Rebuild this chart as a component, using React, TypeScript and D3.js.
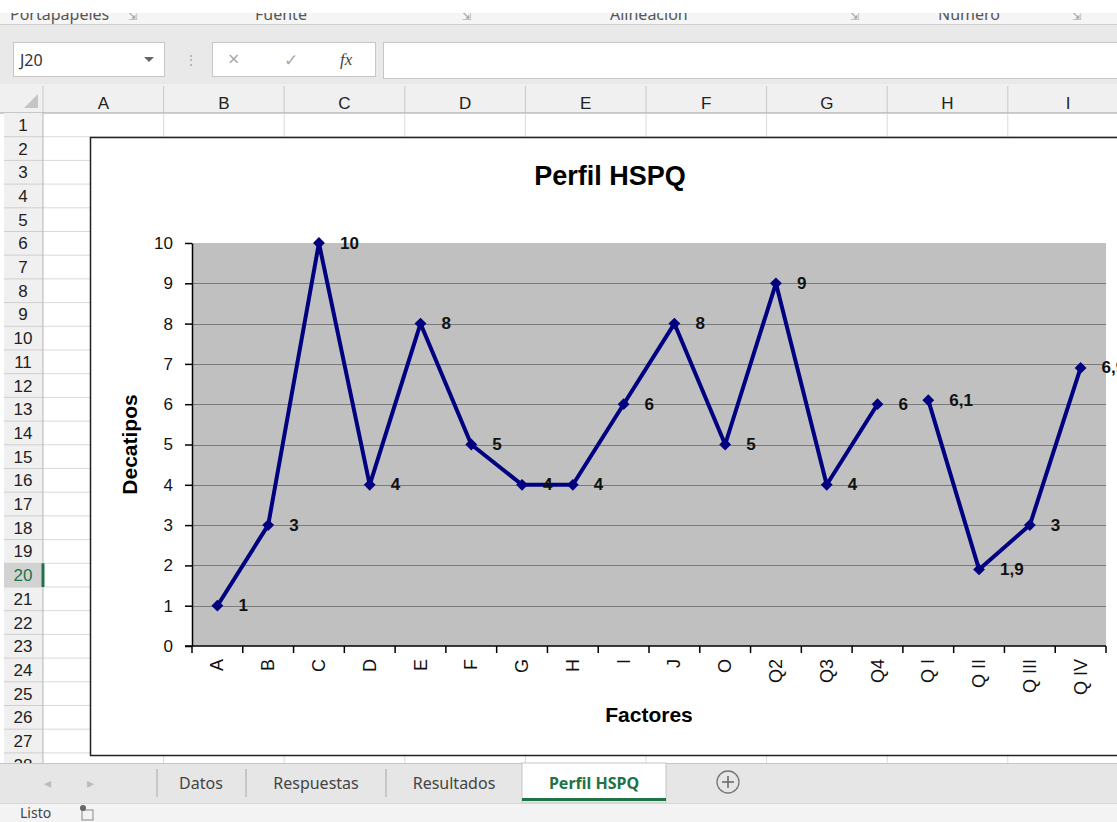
import { useRef, useEffect } from "react";
import * as d3 from "d3";

// ---- data ----
const factores = ["A", "B", "C", "D", "E", "F", "G", "H", "I", "J", "O", "Q2", "Q3", "Q4", "Q I", "Q II", "Q III", "Q IV"];
const primarios = [1, 3, 10, 4, 8, 5, 4, 4, 6, 8, 5, 9, 4, 6]; // A .. Q4
const secundarios = [6.1, 1.9, 3, 6.9]; // Q I .. Q IV
const yTicks = [0, 1, 2, 3, 4, 5, 6, 7, 8, 9, 10];

const columnas = ["A", "B", "C", "D", "E", "F", "G", "H", "I"];
const filas = d3.range(1, 29);
const hojas = ["Datos", "Respuestas", "Resultados", "Perfil HSPQ"];
const grupos = [
	{ name: "Portapapeles", x: 10 },
	{ name: "Fuente", x: 255 },
	{ name: "Alineación", x: 610 },
	{ name: "Número", x: 938 },
];

const W = 1117;
const H = 822;
const ARIAL = "'Liberation Sans', Arial, sans-serif";
const UI = "'Noto Sans', 'Open Sans', sans-serif";

function Chart() {
	const ref = useRef<SVGGElement>(null);

	useEffect(() => {
		const g = d3.select(ref.current);
		g.selectAll("*").remove();

		const plot = { left: 192, right: 1106, top: 243, bottom: 646 };

		const x = d3.scaleBand().domain(factores).range([plot.left, plot.right]).padding(0);
		const y = d3.scaleLinear().domain([0, 10]).range([plot.bottom, plot.top]);
		const cx = (d: string) => (x(d) as number) + x.bandwidth() / 2;

		// chart area
		g.append("rect")
			.attr("x", 90.5)
			.attr("y", 137.5)
			.attr("width", 1100)
			.attr("height", 618)
			.attr("fill", "#fff")
			.attr("stroke", "#222")
			.attr("stroke-width", 1.5);

		// plot area
		g.append("rect")
			.attr("x", plot.left)
			.attr("y", plot.top)
			.attr("width", plot.right - plot.left)
			.attr("height", plot.bottom - plot.top)
			.attr("fill", "#c0c0c0");

		// gridlines
		g.selectAll("line.grid")
			.data(yTicks.filter((t) => t > 0 && t < 10))
			.enter()
			.append("line")
			.attr("x1", plot.left)
			.attr("x2", plot.right)
			.attr("y1", (d) => Math.round(y(d)) + 0.5)
			.attr("y2", (d) => Math.round(y(d)) + 0.5)
			.attr("stroke", "#7a7a7a")
			.attr("stroke-width", 1);

		// ---- y axis ----
		const yAxis = g
			.append("g")
			.attr("transform", `translate(${plot.left},0)`)
			.call(d3.axisLeft(y).tickValues(yTicks).tickSize(7).tickSizeOuter(0).tickPadding(12));
		yAxis.select(".domain").attr("stroke", "#000").attr("stroke-width", 1.5);
		yAxis.selectAll(".tick line").attr("stroke", "#000").attr("stroke-width", 1.5);
		yAxis.selectAll(".tick text").style("font-family", ARIAL).style("font-size", "17px").attr("fill", "#111");

		// ---- x axis ----
		g.append("line")
			.attr("x1", plot.left - 7)
			.attr("x2", plot.right)
			.attr("y1", plot.bottom)
			.attr("y2", plot.bottom)
			.attr("stroke", "#000")
			.attr("stroke-width", 1.5);

		g.selectAll("line.xtick")
			.data(d3.range(factores.length + 1))
			.enter()
			.append("line")
			.attr("x1", (i) => plot.left + i * x.step())
			.attr("x2", (i) => plot.left + i * x.step())
			.attr("y1", plot.bottom)
			.attr("y2", plot.bottom + 7)
			.attr("stroke", "#000")
			.attr("stroke-width", 1.5);

		g.selectAll("text.xlab")
			.data(factores)
			.enter()
			.append("text")
			.attr("transform", (d) => `translate(${cx(d)},${plot.bottom + 13}) rotate(-90)`)
			.attr("text-anchor", "end")
			.attr("dominant-baseline", "central")
			.style("font-family", ARIAL)
			.style("font-size", "18px")
			.attr("fill", "#111")
			.text((d) => d);

		// ---- titles ----
		g.append("text")
			.attr("x", 610)
			.attr("y", 185)
			.attr("text-anchor", "middle")
			.style("font-family", ARIAL)
			.style("font-size", "27px")
			.style("font-weight", "bold")
			.text("Perfil HSPQ");

		g.append("text")
			.attr("x", (plot.left + plot.right) / 2)
			.attr("y", 722)
			.attr("text-anchor", "middle")
			.style("font-family", ARIAL)
			.style("font-size", "21px")
			.style("font-weight", "bold")
			.text("Factores");

		g.append("text")
			.attr("transform", `translate(137,${(plot.top + plot.bottom) / 2}) rotate(-90)`)
			.attr("text-anchor", "middle")
			.style("font-family", ARIAL)
			.style("font-size", "21px")
			.style("font-weight", "bold")
			.text("Decatipos");

		// ---- series ----
		const series = [
			primarios.map((v, i) => ({ k: factores[i], v })),
			secundarios.map((v, i) => ({ k: factores[primarios.length + i], v })),
		];

		const line = d3
			.line<{ k: string; v: number }>()
			.x((d) => cx(d.k))
			.y((d) => y(d.v));

		series.forEach((s) => {
			g.append("path")
				.datum(s)
				.attr("d", line)
				.attr("fill", "none")
				.attr("stroke", "#000080")
				.attr("stroke-width", 4)
				.attr("stroke-linejoin", "round");

			g.selectAll(null)
				.data(s)
				.enter()
				.append("path")
				.attr("d", d3.symbol().type(d3.symbolSquare).size(70)())
				.attr("transform", (d) => `translate(${cx(d.k)},${y(d.v)}) rotate(45)`)
				.attr("fill", "#000080");

			g.selectAll(null)
				.data(s)
				.enter()
				.append("text")
				.attr("x", (d) => cx(d.k) + 21)
				.attr("y", (d) => y(d.v))
				.attr("dominant-baseline", "central")
				.style("font-family", ARIAL)
				.style("font-size", "17px")
				.style("font-weight", "bold")
				.attr("fill", "#111")
				.text((d) => String(d.v).replace(".", ","));
		});
	}, []);

	return <g ref={ref} />;
}

export default function App() {
	const colX = d3.scaleLinear().domain([0, 1]).range([43, 163.6]);
	const rowY = d3.scaleLinear().domain([0, 1]).range([113, 136.7]);

	return (
		<svg width={W} height={H} style={{ position: "absolute", left: 0, top: 0, background: "#fff" }}>
			{/* ribbon */}
			<rect x={0} y={13} width={W} height={11} fill="#f5f5f5" />
			<clipPath id="rib">
				<rect x={0} y={13} width={W} height={11} />
			</clipPath>
			<g clipPath="url(#rib)">
				{grupos.map((gr) => (
					<text key={gr.name} x={gr.x} y={20} fontFamily={UI} fontSize={16} fill="#555">
						{gr.name}
					</text>
				))}
				{[128, 462, 850, 1072].map((xx) => (
					<text key={xx} x={xx} y={20} fontFamily={UI} fontSize={11} fill="#999">
						⇲
					</text>
				))}
			</g>
			<line x1={0} x2={W} y1={24.5} y2={24.5} stroke="#d0d0d0" />

			{/* formula bar */}
			<rect x={0} y={25} width={W} height={59} fill="#e9e9e9" />
			<rect x={13.5} y={42.5} width={151} height={34} fill="#fff" stroke="#c6c6c6" />
			<text x={20} y={66} fontFamily={UI} fontSize={16} fill="#333">
				J20
			</text>
			<path d="M144,57 L154,57 L149,62 Z" fill="#666" />
			<text x={184} y={65} fontFamily={UI} fontSize={14} fill="#aaa">
				⋮
			</text>
			<rect x={212.5} y={42.5} width={163} height={34} fill="#fff" stroke="#c6c6c6" />
			<text x={228} y={66} fontFamily={UI} fontSize={20} fill="#aaa">
				×
			</text>
			<text x={284} y={66} fontFamily={UI} fontSize={17} fill="#aaa">
				✓
			</text>
			<text x={340} y={65} fontFamily="serif" fontStyle="italic" fontSize={17} fill="#444">
				fx
			</text>
			<rect x={383.5} y={42.5} width={W} height={36} fill="#fff" stroke="#c6c6c6" />

			{/* column headers */}
			<rect x={0} y={84} width={W} height={29} fill="#f0f0f0" />
			<path d="M24,108 L38,108 L38,94 Z" fill="#c4c4c4" />
			{columnas.map((c, i) => (
				<g key={c}>
					<line x1={colX(i + 1)} x2={colX(i + 1)} y1={86} y2={113} stroke="#c8c8c8" />
					<text x={colX(i + 0.5)} y={109} textAnchor="middle" fontFamily={ARIAL} fontSize={17} fill="#222">
						{c}
					</text>
				</g>
			))}
			<line x1={43} x2={43} y1={86} y2={113} stroke="#c8c8c8" />
			<line x1={0} x2={W} y1={113} y2={113} stroke="#9e9e9e" />

			{/* cells grid */}
			{filas.map((r) => (
				<line key={"h" + r} x1={43} x2={W} y1={rowY(r)} y2={rowY(r)} stroke="#dadada" />
			))}
			{columnas.map((c, i) => (
				<line key={"v" + c} x1={colX(i + 1)} x2={colX(i + 1)} y1={113} y2={763} stroke="#dadada" />
			))}

			{/* row headers */}
			<rect x={4} y={113} width={39} height={650} fill="#f0f0f0" />
			<rect x={4} y={rowY(19)} width={39} height={rowY(20) - rowY(19)} fill="#d2d2d2" />
			{filas.map((r) => (
				<g key={"r" + r}>
					<line x1={4} x2={43} y1={rowY(r)} y2={rowY(r)} stroke="#cfcfcf" />
					<text
						x={23}
						y={rowY(r - 0.5) + 6}
						textAnchor="middle"
						fontFamily={ARIAL}
						fontSize={17}
						fill={r === 20 ? "#217346" : "#222"}
					>
						{r}
					</text>
				</g>
			))}
			<line x1={43} x2={43} y1={113} y2={763} stroke="#b5b5b5" />
			<line x1={43} x2={43} y1={rowY(19)} y2={rowY(20)} stroke="#217346" strokeWidth={3} />

			<Chart />

			{/* sheet tabs */}
			<rect x={0} y={763} width={W} height={40} fill="#e6e6e6" />
			<line x1={0} x2={W} y1={763.5} y2={763.5} stroke="#c6c6c6" />
			<text x={44} y={788} fontFamily={UI} fontSize={14} fill="#bbb">
				◂
			</text>
			<text x={87} y={788} fontFamily={UI} fontSize={14} fill="#bbb">
				▸
			</text>
			{[157, 246, 386].map((xx) => (
				<line key={xx} x1={xx} x2={xx} y1={769} y2={797} stroke="#a8a8a8" />
			))}
			<rect x={522} y={763} width={144} height={39} fill="#fff" stroke="#c6c6c6" />
			<rect x={522} y={798} width={144} height={3} fill="#217346" />
			{hojas.map((h, i) => (
				<text
					key={h}
					x={[201, 316, 454, 594][i]}
					y={789}
					textAnchor="middle"
					fontFamily={UI}
					fontSize={16}
					fontWeight={i === 3 ? "bold" : "normal"}
					fill={i === 3 ? "#217346" : "#444"}
				>
					{h}
				</text>
			))}
			<circle cx={728} cy={782} r={11} fill="none" stroke="#777" strokeWidth={1.3} />
			<path d="M722,782 L734,782 M728,776 L728,788" stroke="#666" strokeWidth={1.5} />

			{/* status bar */}
			<rect x={0} y={803} width={W} height={19} fill="#f3f3f3" />
			<line x1={0} x2={W} y1={803.5} y2={803.5} stroke="#d6d6d6" />
			<text x={20} y={818} fontFamily={UI} fontSize={14} fill="#444">
				Listo
			</text>
			<rect x={82} y={810} width={11} height={10} fill="none" stroke="#888" />
			<circle cx={83} cy={808} r={3} fill="#666" />
		</svg>
	);
}
